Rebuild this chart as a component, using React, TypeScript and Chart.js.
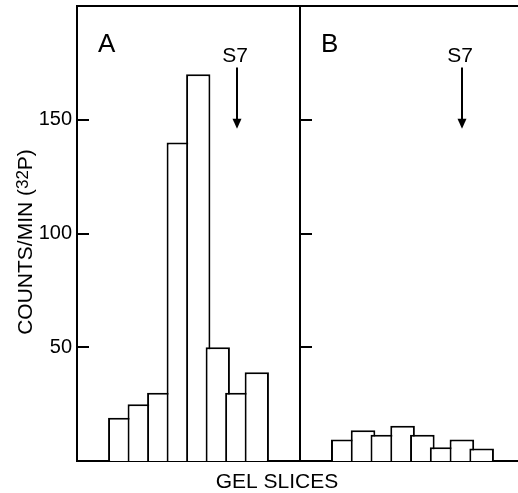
import React, { useEffect, useRef } from "react";
import { Chart, registerables } from "chart.js";

Chart.register(...registerables);

// ---- data ----
const slices = [1, 2, 3, 4, 5, 6, 7, 8];
const countsA = [19, 25, 30, 140, 170, 50, 30, 39];
const countsB = [9.5, 13.5, 11.5, 15.5, 11.5, 6, 9.5, 5.5];
const yTicks = [50, 100, 150];
const yMax = 200;
const panelNames = ["A", "B"];
const markerLabel = "S7";
const markerSlice = 7;
const markerFrom = 173;
const markerTo = 146;
const yTitleParts = ["COUNTS/MIN (", "32", "P)"];
const xTitle = "GEL SLICES";

const FONT = "'Liberation Sans', Arial, sans-serif";
const W = 518;
const H = 493;

function makeDecor(panelIndex: number) {
  return {
    id: "decor" + panelIndex,
    afterDraw(chart: any) {
      const { ctx, chartArea } = chart;
      const { left, right, top } = chartArea;
      const x = chart.scales.x;
      const y = chart.scales.y;
      ctx.save();
      ctx.strokeStyle = "#000";
      ctx.fillStyle = "#000";
      ctx.lineWidth = 2;
      // top frame line
      ctx.beginPath();
      ctx.moveTo(left - 1, top);
      ctx.lineTo(right, top);
      ctx.stroke();
      // inward tick marks
      yTicks.forEach((v) => {
        const py = Math.round(y.getPixelForValue(v));
        ctx.beginPath();
        ctx.moveTo(left, py);
        ctx.lineTo(left + 12, py);
        ctx.stroke();
      });
      // panel label
      ctx.font = `26px ${FONT}`;
      ctx.textAlign = "left";
      ctx.textBaseline = "alphabetic";
      ctx.fillText(panelNames[panelIndex], left + 21, 52);
      // S7 marker arrow
      const px = Math.round(x.getPixelForValue(markerSlice));
      const yFrom = y.getPixelForValue(markerFrom);
      const yTo = y.getPixelForValue(markerTo);
      ctx.beginPath();
      ctx.moveTo(px, yFrom);
      ctx.lineTo(px, yTo - 6);
      ctx.stroke();
      ctx.beginPath();
      ctx.moveTo(px - 4.5, yTo - 10);
      ctx.lineTo(px + 4.5, yTo - 10);
      ctx.lineTo(px, yTo);
      ctx.closePath();
      ctx.fill();
      ctx.font = `21px ${FONT}`;
      ctx.textAlign = "center";
      ctx.fillText(markerLabel, px - 2, 62);

      if (panelIndex === 0) {
        // x title
        ctx.font = `21px ${FONT}`;
        ctx.textAlign = "center";
        ctx.textBaseline = "alphabetic";
        ctx.fillText(xTitle, 277, 488);
        // y title with superscript
        ctx.translate(26, 242);
        ctx.rotate(-Math.PI / 2);
        ctx.textAlign = "left";
        ctx.textBaseline = "middle";
        const big = `21px ${FONT}`;
        const small = `17px ${FONT}`;
        ctx.font = big;
        const w1 = ctx.measureText(yTitleParts[0]).width;
        const w3 = ctx.measureText(yTitleParts[2]).width;
        ctx.font = small;
        const w2 = ctx.measureText(yTitleParts[1]).width;
        let cx = -(w1 + w2 + w3) / 2;
        ctx.font = big;
        ctx.fillText(yTitleParts[0], cx, 0);
        cx += w1;
        ctx.font = small;
        ctx.fillText(yTitleParts[1], cx, -3);
        cx += w2;
        ctx.font = big;
        ctx.fillText(yTitleParts[2], cx, 0);
      }
      ctx.restore();
    },
  };
}

function buildConfig(panelIndex: number): any {
  const values = panelIndex === 0 ? countsA : countsB;
  const isA = panelIndex === 0;
  return {
    type: "bar",
    data: {
      datasets: [
        {
          data: slices.map((s, i) => ({ x: s, y: values[i] })),
          backgroundColor: "#fff",
          borderColor: "#000",
          borderWidth: 2,
          borderSkipped: "start",
          inflateAmount: 0,
          barThickness: isA ? 24.3 : 24.6,
        },
      ],
    },
    options: {
      animation: false,
      responsive: false,
      maintainAspectRatio: false,
      devicePixelRatio: 1,
      layout: {
        padding: isA
          ? { top: 6, left: 0, right: W - 300, bottom: 0 }
          : { top: 6, left: 290, right: 0, bottom: 0 },
      },
      plugins: {
        legend: { display: false },
        tooltip: { enabled: false },
        title: { display: false },
      },
      scales: {
        x: {
          type: "linear",
          min: -0.5,
          max: isA ? 9.5 : 9.15,
          afterBuildTicks: (s: any) => {
            s.ticks = slices.map((v) => ({ value: v }));
          },
          afterFit: (s: any) => {
            s.height = 32;
            s.paddingLeft = 0;
            s.paddingRight = 0;
          },
          grid: { display: false, drawTicks: false },
          ticks: { display: false },
          border: { display: true, color: "#000", width: 2 },
        },
        y: {
          type: "linear",
          min: 0,
          max: yMax,
          afterBuildTicks: (s: any) => {
            s.ticks = yTicks.map((v) => ({ value: v }));
          },
          afterFit: (s: any) => {
            s.width = isA ? 77 : 10;
            s.paddingTop = 0;
            s.paddingBottom = 0;
          },
          grid: { display: false, drawTicks: false },
          border: { display: true, color: "#000", width: 2 },
          ticks: {
            display: isA,
            color: "#000",
            padding: 5,
            font: { family: FONT, size: 20 },
          },
        },
      },
    },
    plugins: [makeDecor(panelIndex)],
  };
}

function Panel({ index }: { index: number }) {
  const ref = useRef<HTMLCanvasElement | null>(null);
  useEffect(() => {
    if (!ref.current) return;
    const chart = new Chart(ref.current, buildConfig(index));
    return () => chart.destroy();
  }, [index]);
  return (
    <canvas
      ref={ref}
      width={W}
      height={H}
      style={{ position: "absolute", left: 0, top: 0, width: W, height: H }}
    />
  );
}

export default function App() {
  return (
    <div
      style={{
        position: "fixed",
        left: 0,
        top: 0,
        width: W,
        height: H,
        background: "#fff",
        overflow: "hidden",
      }}
    >
      <Panel index={0} />
      <Panel index={1} />
    </div>
  );
}
